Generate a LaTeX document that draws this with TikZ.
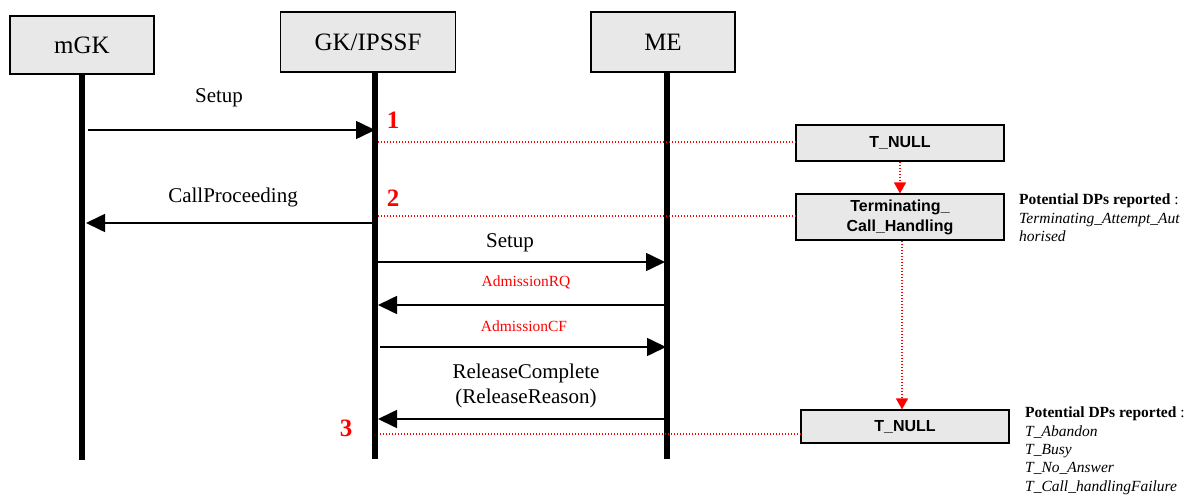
\documentclass[tikz,border=0pt]{standalone}
\usepackage{fontspec}
\setmainfont{Liberation Serif}
\setsansfont{Liberation Sans}
\usetikzlibrary{arrows.meta,positioning}

\begin{document}
\begin{tikzpicture}
  [x=1pt,y=-1pt,
   actor/.style={draw, fill=black!9, line width=1.4pt, inner sep=0pt, font=\fontsize{25}{30}\selectfont},
   life/.style={line width=6pt},
   msg/.style={line width=1.6pt, -{Triangle[length=19pt,width=18pt]}},
   msglabel/.style={font=\fontsize{21}{25}\selectfont, align=center},
   admlabel/.style={red, font=\fontsize{15.5}{18}\selectfont},
   state/.style={draw, fill=black!9, line width=1.2pt, minimum width=208pt, inner sep=0pt, font=\sffamily\bfseries\fontsize{16}{20}\selectfont, align=center},
   dpnum/.style={red, font=\bfseries\fontsize{25}{30}\selectfont},
   tie/.style={red, line width=1.3pt, dash pattern=on 1.3pt off 1.7pt},
   dpnote/.style={anchor=north west, align=left, inner sep=0pt, font=\fontsize{15.5}{18.3}\selectfont}]

\useasboundingbox (0,0) rectangle (1188,495);

%%%  nodes

% entities
\node [actor, minimum width=144pt, minimum height=58pt] (mgk) at (82,45) {mGK};
\node [actor, minimum width=175pt, minimum height=60pt] (gk) at (368,42) {GK/IPSSF};
\node [actor, minimum width=144pt, minimum height=60pt] (me) at (663,42) {ME};

% lifeline ends
\coordinate (mgkend) at (82,460);
\coordinate (gkend) at (375,459);
\coordinate (meend) at (667,459);

% message ends
\coordinate (s1a) at (88,130);   \coordinate (s1b) at (375,130);
\coordinate (cpa) at (375,223);  \coordinate (cpb) at (86,223);
\coordinate (s2a) at (378,262);  \coordinate (s2b) at (665,262);
\coordinate (rqa) at (665,305);  \coordinate (rqb) at (378,305);
\coordinate (cfa) at (380,347);  \coordinate (cfb) at (666,347);
\coordinate (rca) at (665,419);  \coordinate (rcb) at (378,419);

% message labels
\node [msglabel] (l1) at (219,98) {Setup};
\node [msglabel] (l2) at (233,197) {CallProceeding};
\node [msglabel] (l3) at (510,243) {Setup};
\node [admlabel] (l4) at (526,282) {AdmissionRQ};
\node [admlabel] (l5) at (524,326) {AdmissionCF};
\node [msglabel] (l6) at (526,386) {ReleaseComplete\\(ReleaseReason)};

% detection points
\node [dpnum] (n1) at (393,120) {1};
\node [dpnum] (n2) at (393,198) {2};
\node [dpnum] (n3) at (346,428) {3};

% states
\node [state, minimum height=36pt] (null1) at (900,143) {T\_NULL};
\node [state, minimum height=46pt] (term) at (900,217) {Terminating\_\\Call\_Handling};
\node [state, minimum height=33pt] (null2) at (905,426.5) {T\_NULL};

\coordinate (t1) at (378,142);
\coordinate (t2) at (378,216);
\coordinate (t3) at (380,434);

% reported DPs
\node [dpnote] (dp1) at (1019,194) {\textbf{Potential DPs reported} :\\
  \textit{Terminating\_Attempt\_Aut}\\ \textit{horised}};
\node [dpnote] (dp2) at (1025,407) {\textbf{Potential DPs reported} :\\
  \textit{T\_Abandon}\\ \textit{T\_Busy}\\ \textit{T\_No\_Answer}\\ \textit{T\_Call\_handlingFailure}};

%%%  edges

% lifelines
\draw [life] (mgkend |- mgk.south) -- (mgkend);
\draw [life] (gkend |- gk.south) -- (gkend);
\draw [life] (meend |- me.south) -- (meend);

% messages
\draw [msg] (s1a) -- (s1b);
\draw [msg] (cpa) -- (cpb);
\draw [msg] (s2a) -- (s2b);
\draw [msg] (rqa) -- (rqb);
\draw [msg] (cfa) -- (cfb);
\draw [msg] (rca) -- (rcb);

% state ties
\draw [tie] (t1) -- (t1 -| null1.west);
\draw [tie] (t2) -- (t2 -| term.west);
\draw [tie] (t3) -- (t3 -| null2.west);

% state changes
\draw [tie, -{Triangle[length=11pt,width=12pt]}] (null1.south) -- (term.north);
\draw [tie, -{Triangle[length=11pt,width=12pt]}] (term.south -| 902,0) -- (null2.north -| 902,0);

\end{tikzpicture}
\end{document}
